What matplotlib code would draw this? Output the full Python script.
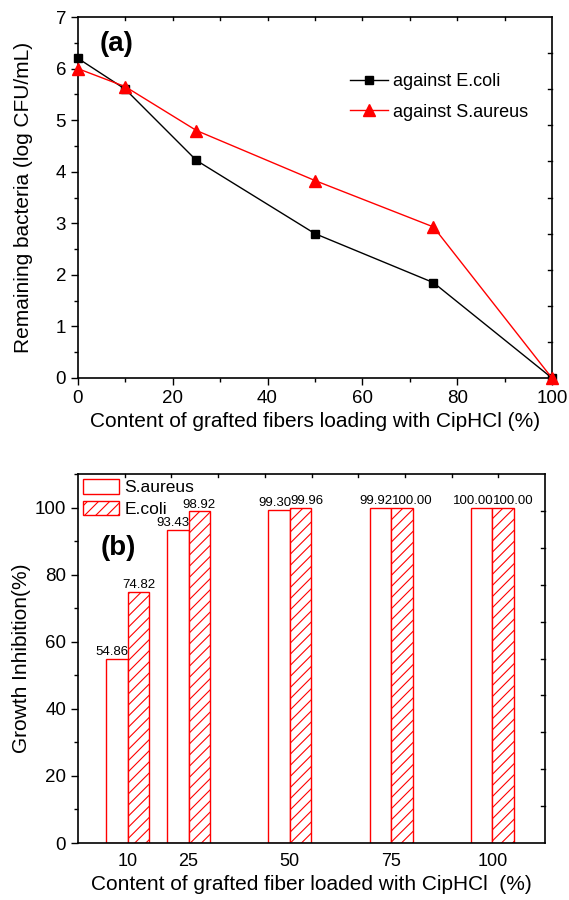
import numpy as np
import matplotlib
matplotlib.use('Agg')
import matplotlib.pyplot as plt
from matplotlib.ticker import MultipleLocator, FixedLocator

plt.rcParams['font.family'] = ['Liberation Sans', 'DejaVu Sans']
plt.rcParams['hatch.color'] = 'red'
plt.rcParams['hatch.linewidth'] = 0.8

# (a) remaining bacteria
content = [0, 10, 25, 50, 75, 100]
ecoli_log = [6.2, 5.6, 4.22, 2.8, 1.85, 0.0]
saureus_log = [6.0, 5.65, 4.8, 3.83, 2.93, 0.0]

# (b) growth inhibition
groups = [10, 25, 50, 75, 100]
saureus_inh = [54.86, 93.43, 99.30, 99.92, 100.00]
ecoli_inh = [74.82, 98.92, 99.96, 100.00, 100.00]

fig = plt.figure(figsize=(5.69, 9.0), dpi=100)

def frame(ax, xr, yr):
    for s in ax.spines.values():
        s.set_linewidth(1.2)
    ax.tick_params(which='both', direction='out', top=False, right=False,
                   labelsize=13.5, width=1.0)
    ax.tick_params(which='major', length=5)
    ax.tick_params(which='minor', length=3)
    # inward ticks on top and right, 10 equal divisions
    for v in np.linspace(xr[0], xr[1], 11)[1:-1]:
        ax.plot([v, v], [yr[1], yr[1] - (yr[1] - yr[0]) * 0.008],
                color='black', lw=1.0, clip_on=False)
    for v in np.linspace(yr[0], yr[1], 11)[1:-1]:
        ax.plot([xr[1], xr[1] - (xr[1] - xr[0]) * 0.008], [v, v],
                color='black', lw=1.0, clip_on=False)
    ax.set_xlim(*xr)
    ax.set_ylim(*yr)

# ---- panel (a)
ax1 = fig.add_axes([0.137, 0.58, 0.833, 0.401])
ax1.plot(content, ecoli_log, '-s', color='black', lw=1.0, ms=6,
         label='against E.coli', clip_on=False, zorder=3)
ax1.plot(content, saureus_log, '-^', color='red', lw=1.0, ms=8,
         label='against S.aureus', clip_on=False, zorder=4)
frame(ax1, (0, 100), (0, 7))
ax1.xaxis.set_major_locator(MultipleLocator(20))
ax1.xaxis.set_minor_locator(MultipleLocator(10))
ax1.yaxis.set_major_locator(MultipleLocator(1))
ax1.yaxis.set_minor_locator(MultipleLocator(0.5))
ax1.set_xlabel('Content of grafted fibers loading with CipHCl (%)', fontsize=15, labelpad=4)
ax1.set_ylabel('Remaining bacteria (log CFU/mL)', fontsize=15, labelpad=16)
ax1.text(0.046, 0.925, '(a)', transform=ax1.transAxes, fontsize=20,
         fontweight='bold', va='center')
ax1.legend(loc='upper left', bbox_to_anchor=(0.54, 0.89), frameon=False,
           fontsize=13, handlelength=2.1, handletextpad=0.3, labelspacing=0.75)

# ---- panel (b)
ax2 = fig.add_axes([0.137, 0.0633, 0.821, 0.41])
w = 5.3
x = np.array(groups, dtype=float)
b1 = ax2.bar(x - w / 2, saureus_inh, w, facecolor='white', edgecolor='red',
             lw=1.0, label='S.aureus')
b2 = ax2.bar(x + w / 2, ecoli_inh, w, facecolor='white', edgecolor='red',
             hatch='///', lw=1.0, label='E.coli')
# value labels: S.aureus right-aligned to its bar, E.coli shifted to avoid overlap
for r, v in zip(b1, saureus_inh):
    ax2.text(r.get_x() + r.get_width() + 0.3, v + 0.2, f'{v:.2f}',
             ha='right', va='bottom', fontsize=9.5)
ecoli_ha = ['center', 'center', 'left', 'left', 'left']
for r, v, ha in zip(b2, ecoli_inh, ecoli_ha):
    xt = r.get_x() + r.get_width() / 2 if ha == 'center' else r.get_x() + 0.1
    ax2.text(xt, v + 0.2, f'{v:.2f}', ha=ha, va='bottom', fontsize=9.5)
frame(ax2, (-2.3, 113), (0, 110))
ax2.xaxis.set_major_locator(FixedLocator(groups))
ax2.xaxis.set_minor_locator(FixedLocator([]))
ax2.tick_params(axis='x', which='major', length=0, pad=7, labelsize=13)
ax2.yaxis.set_major_locator(MultipleLocator(20))
ax2.yaxis.set_minor_locator(MultipleLocator(10))
ax2.set_yticks([0, 20, 40, 60, 80, 100])
ax2.set_xlabel('Content of grafted fiber loaded with CipHCl  (%)', fontsize=15, labelpad=4)
ax2.set_ylabel('Growth Inhibition(%)', fontsize=15, labelpad=3)
ax2.text(0.048, 0.80, '(b)', transform=ax2.transAxes, fontsize=20,
         fontweight='bold', va='center')
ax2.legend(loc='upper left', bbox_to_anchor=(-0.012, 1.014), frameon=False,
           fontsize=12.5, handlelength=2.1, handleheight=0.9,
           handletextpad=0.3, labelspacing=0.3, borderaxespad=0.2)

fig.savefig('out.png', dpi=100)
